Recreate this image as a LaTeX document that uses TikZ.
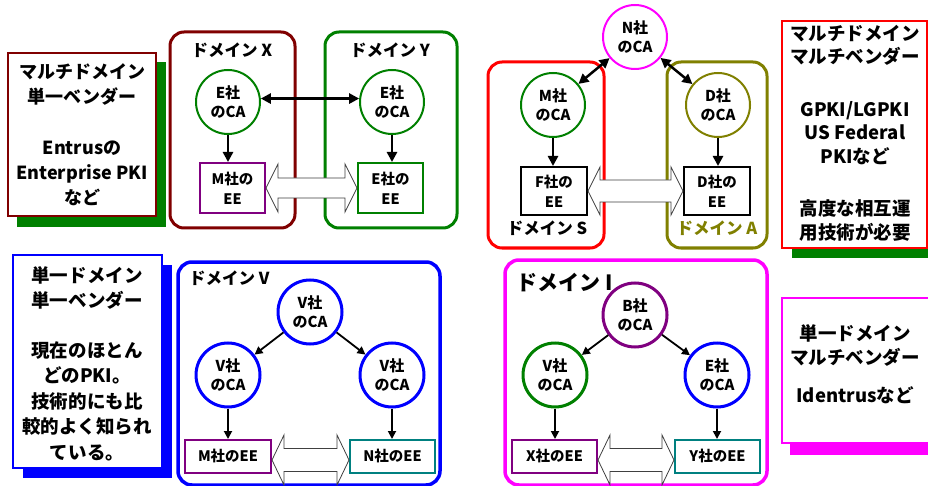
\documentclass[tikz,border=0pt]{standalone}
\usepackage{fontspec}
\setmainfont{Noto Sans CJK JP}
\usetikzlibrary{arrows.meta,calc}
\definecolor{cDRed}{HTML}{800000}
\definecolor{cGreen}{HTML}{008000}
\definecolor{cRed}{HTML}{FF0000}
\definecolor{cOlive}{HTML}{808000}
\definecolor{cMag}{HTML}{FF00FF}
\definecolor{cBlue}{HTML}{0000FF}
\definecolor{cPurp}{HTML}{800080}
\definecolor{cTeal}{HTML}{008080}
\newcommand\fs[2]{\fontsize{#1}{#2}\selectfont\bfseries}
\newcommand\hollowarr[5]{%
  \draw[hollow] let \p1=(#1.east), \p2=(#2.west) in
  (\x1,{\y1-#3pt}) -- ({\x1+12pt},{\y1-#3pt+#5pt}) -- ({\x1+12pt},{\y1-#3pt+#4pt})
  -- ({\x2-12pt},{\y1-#3pt+#4pt}) -- ({\x2-12pt},{\y1-#3pt+#5pt}) -- (\x2,{\y1-#3pt})
  -- ({\x2-12pt},{\y1-#3pt-#5pt}) -- ({\x2-12pt},{\y1-#3pt-#4pt})
  -- ({\x1+12pt},{\y1-#3pt-#4pt}) -- ({\x1+12pt},{\y1-#3pt-#5pt}) -- cycle;}
\begin{document}
\begin{tikzpicture}[x=1pt,y=-1pt,
  dom/.style={line width=3pt, rounded corners=14pt},
  ca/.style={circle, draw, fill=white, line width=2pt, minimum size=64pt, inner sep=0pt, align=center, font=\fs{15}{18.5}},
  cab/.style={ca, line width=3pt},
  ee/.style={draw, fill=white, line width=2pt, inner sep=0pt, align=center, font=\fs{14.5}{20}},
  ttl/.style={font=\fs{16.5}{20}, inner sep=0pt},
  note/.style={align=center, inner sep=0pt},
  arr/.style={-{Triangle[length=10pt,width=10pt]}, line width=2.5pt},
  bi/.style={{Triangle[length=10pt,width=10pt]}-{Triangle[length=10pt,width=10pt]}, line width=2.5pt},
  arrs/.style={-{Triangle[length=8pt,width=8pt]}, line width=1.8pt},
  hollow/.style={draw=black!75, fill=white, line width=0.8pt}]
\useasboundingbox (0,0) rectangle (928,486);
\clip (0,0) rectangle (928,486);
\fill[white] (0,0) rectangle (928,486);

% ---------- note panels ----------
\fill[cGreen] (17,62) rectangle (166,227);
\draw[cDRed, line width=2pt, fill=white] (8,53) rectangle (156,216);
\node[note, font=\fs{18}{25}] (n1) at (82,134.5) {マルチドメイン\\単一ベンダー\\[26pt]Entrusの\\Enterprise PKI\\など};

\fill[cGreen] (792,31) rectangle (940,258);
\draw[cRed, line width=2pt, fill=white] (782,21) rectangle (927,248);
\node[note, font=\fs{18.5}{23.5}] (n4) at (855,133) {マルチドメイン\\マルチベンダー\\[29pt]GPKI/LGPKI\\US Federal\\PKIなど\\[29pt]高度な相互運\\用技術が必要};

\fill[cBlue] (23,265) rectangle (172,478);
\draw[cBlue, line width=2pt, fill=white] (13,255) rectangle (162,468);
\node[note, font=\fs{18.5}{25.5}] (n5) at (87,363.5) {単一ドメイン\\単一ベンダー\\[24pt]現在のほとん\\どのPKI。\\技術的にも比\\較的よく知られ\\ている。};

\fill[cMag] (790,308) rectangle (940,455);
\draw[cMag, line width=2pt, fill=white] (782,298) rectangle (940,443);
\node[note, font=\fs{18.5}{24}] (n8) at (855,364) {単一ドメイン\\マルチベンダー\\[14pt]Identrusなど};

% ---------- top middle: domains X / Y ----------
\draw[dom, cDRed] (170,32) rectangle (295,228);
\draw[dom, cGreen] (325,32) rectangle (457,228);
\node[ttl] (tX) at (232,50) {ドメイン X};
\node[ttl] (tY) at (390,50) {ドメイン Y};
\node[ca, draw=cGreen] (caX) at (228,102) {E社\\のCA};
\node[ca, draw=cGreen] (caY) at (392,102) {E社\\のCA};
\node[ee, draw=cPurp, minimum width=65pt, minimum height=50pt] (eeM) at (232.5,188) {M社の\\EE};
\node[ee, draw=cGreen, minimum width=65pt, minimum height=50pt] (eeE) at (390.5,188) {E社の\\EE};
\draw[bi] (caX.6) -- (caY.174);
\draw[arr] (caX.south) -- (caX.south |- eeM.north);
\draw[arr] (caY.south) -- (caY.south |- eeE.north);
\hollowarr{eeM}{eeE}{0}{10}{24}

% ---------- top right: domains S / A ----------
\draw[dom, cRed] (488,62) rectangle (604,248);
\draw[dom, cOlive] (667,62) rectangle (767,248);
\node[ttl] (tS) at (547,228) {ドメイン S};
\node[ttl, text=cOlive] (tA) at (717,228) {ドメイン A};
\node[ca, draw=cMag] (caN) at (635,37) {N社\\のCA};
\node[ca, draw=cGreen] (caM) at (553,105) {M社\\のCA};
\node[ca, draw=cOlive] (caD) at (718,105) {D社\\のCA};
\node[ee, draw=black, minimum width=66pt, minimum height=48pt] (eeF) at (554,191) {F社の\\EE};
\node[ee, draw=black, minimum width=66pt, minimum height=48pt] (eeD) at (717,191) {D社の\\EE};
\draw[bi] (caN) -- (caM);
\draw[bi] (caN) -- (caD);
\draw[arr] (caM.south) -- (caM.south |- eeF.north);
\draw[arr] (caD.south) -- (caD.south |- eeD.north);
\hollowarr{eeF}{eeD}{0}{11}{24}

% ---------- bottom middle: domain V ----------
\draw[dom, cBlue, line width=3.5pt] (178,262) rectangle (440,485);
\node[ttl, anchor=west] (tV) at (189,278) {ドメイン V};
\node[cab, draw=cBlue] (v1) at (310,312) {V社\\のCA};
\node[cab, draw=cBlue] (v2) at (228,375) {V社\\のCA};
\node[cab, draw=cBlue] (v3) at (392,375) {V社\\のCA};
\node[ee, draw=cPurp, minimum width=86pt, minimum height=33pt] (eeM2) at (228,456.5) {M社のEE};
\node[ee, draw=cTeal, minimum width=85pt, minimum height=33pt] (eeN) at (392.5,456.5) {N社のEE};
\draw[arrs] (v1) -- (v2);
\draw[arrs] (v1) -- (v3);
\draw[arrs] (v2.south) -- (v2.south |- eeM2.north);
\draw[arrs] (v3.south) -- (v3.south |- eeN.north);
\hollowarr{eeM2}{eeN}{3.5}{11.5}{25}

% ---------- bottom right: domain I ----------
\draw[dom, cMag, line width=3.5pt] (505,260) rectangle (767,485);
\node[anchor=west, inner sep=0pt, font=\fs{21}{24}] (tI) at (516,283) {ドメイン I};
\node[cab, draw=cPurp] (cB) at (635,315) {B社\\のCA};
\node[cab, draw=cGreen] (cV) at (555,375) {V社\\のCA};
\node[cab, draw=cBlue] (cE) at (717,375) {E社\\のCA};
\node[ee, draw=cPurp, minimum width=85pt, minimum height=33pt] (eeX) at (554.5,456.5) {X社のEE};
\node[ee, draw=cTeal, minimum width=85pt, minimum height=33pt] (eeY) at (717.5,456.5) {Y社のEE};
\draw[arrs] (cB) -- (cV);
\draw[arrs] (cB) -- (cE);
\draw[arrs] (cV.south) -- (cV.south |- eeX.north);
\draw[arrs] (cE.south) -- (cE.south |- eeY.north);
\hollowarr{eeX}{eeY}{3.5}{11.5}{25}
\end{tikzpicture}
\end{document}
